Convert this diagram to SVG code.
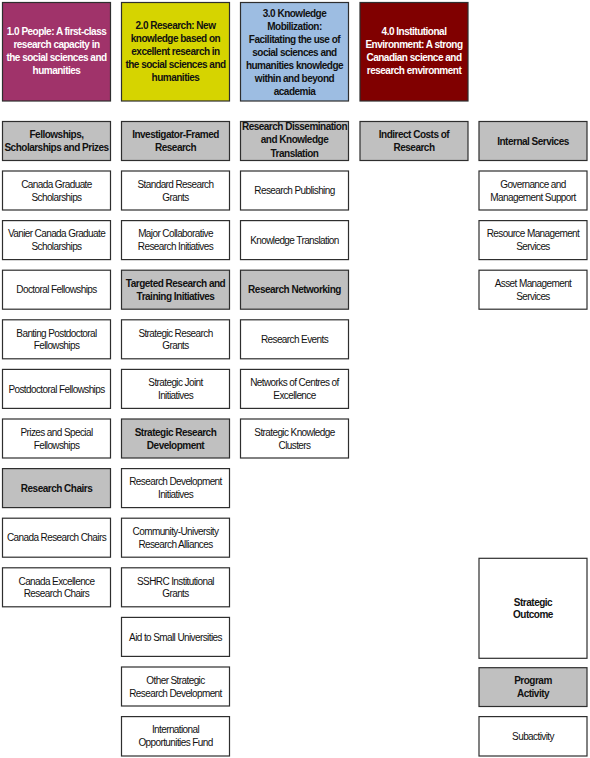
<svg xmlns="http://www.w3.org/2000/svg" width="590" height="758" viewBox="0 0 590 758">
<style>
  .box { stroke: #2e2e2e; stroke-width: 1.2; }
  .w { fill: #ffffff; }
  .g { fill: #c0c0c0; }
  .p { fill: #a0336a; }
  .y { fill: #d6d400; }
  .b { fill: #9dbde2; }
  .r { fill: #800000; }
  text { font-family: "Liberation Sans", Arial, sans-serif; font-size: 10px; text-anchor: middle; fill: #111111; letter-spacing: -0.6px; }
  .bd { font-weight: bold; letter-spacing: -0.5px; }
  .wt { fill: #ffffff; }
</style>
<rect width="590" height="758" fill="#ffffff"/>
<g id="connectors"/>

<!-- Column 1 -->
<g id="h1"><rect class="box p" x="2.5" y="2.5" width="108" height="98.5"/>
<text class="bd wt"><tspan x="56.5" y="34.9">1.0 People: A first-class</tspan><tspan x="56.5" y="47.9">research capacity in</tspan><tspan x="56.5" y="60.9">the social sciences and</tspan><tspan x="56.5" y="73.9">humanities</tspan></text></g>
<g id="fellowships"><rect class="box g" x="2.5" y="121.5" width="108" height="39"/>
<text class="bd"><tspan x="56.5" y="138.2">Fellowships,</tspan><tspan x="56.5" y="150.9">Scholarships and Prizes</tspan></text></g>
<g id="cgs"><rect class="box w" x="2.5" y="171" width="108" height="39"/>
<text><tspan x="56.5" y="187.8">Canada Graduate</tspan><tspan x="56.5" y="200.5">Scholarships</tspan></text></g>
<g id="vanier"><rect class="box w" x="2.5" y="220.6" width="108" height="39"/>
<text><tspan x="56.5" y="237.4">Vanier Canada Graduate</tspan><tspan x="56.5" y="250.1">Scholarships</tspan></text></g>
<g id="doctoral"><rect class="box w" x="2.5" y="270.2" width="108" height="39"/>
<text><tspan x="56.5" y="293.3">Doctoral Fellowships</tspan></text></g>
<g id="banting"><rect class="box w" x="2.5" y="319.8" width="108" height="39"/>
<text><tspan x="56.5" y="336.6">Banting Postdoctoral</tspan><tspan x="56.5" y="349.3">Fellowships</tspan></text></g>
<g id="postdoc"><rect class="box w" x="2.5" y="369.4" width="108" height="39"/>
<text><tspan x="56.5" y="392.5">Postdoctoral Fellowships</tspan></text></g>
<g id="prizes"><rect class="box w" x="2.5" y="419" width="108" height="39"/>
<text><tspan x="56.5" y="435.8">Prizes and Special</tspan><tspan x="56.5" y="448.5">Fellowships</tspan></text></g>
<g id="chairs"><rect class="box g" x="2.5" y="468.6" width="108" height="39"/>
<text class="bd"><tspan x="56.5" y="491.7">Research Chairs</tspan></text></g>
<g id="crc"><rect class="box w" x="2.5" y="518.2" width="108" height="39"/>
<text><tspan x="56.5" y="541.3">Canada Research Chairs</tspan></text></g>
<g id="cerc"><rect class="box w" x="2.5" y="567.8" width="108" height="39"/>
<text><tspan x="56.5" y="584.6">Canada Excellence</tspan><tspan x="56.5" y="597.3">Research Chairs</tspan></text></g>

<!-- Column 2 -->
<g id="h2"><rect class="box y" x="121.5" y="2.5" width="108" height="98.5"/>
<text class="bd"><tspan x="175.5" y="29.2">2.0 Research: New</tspan><tspan x="175.5" y="42.2">knowledge based on</tspan><tspan x="175.5" y="55.2">excellent research in</tspan><tspan x="175.5" y="68.2">the social sciences and</tspan><tspan x="175.5" y="81.2">humanities</tspan></text></g>
<g id="investigator"><rect class="box g" x="121.5" y="121.5" width="108" height="39"/>
<text class="bd"><tspan x="175.5" y="138.2">Investigator-Framed</tspan><tspan x="175.5" y="150.9">Research</tspan></text></g>
<g id="srg"><rect class="box w" x="121.5" y="171" width="108" height="39"/>
<text><tspan x="175.5" y="187.8">Standard Research</tspan><tspan x="175.5" y="200.5">Grants</tspan></text></g>
<g id="mcri"><rect class="box w" x="121.5" y="220.6" width="108" height="39"/>
<text><tspan x="175.5" y="237.4">Major Collaborative</tspan><tspan x="175.5" y="250.1">Research Initiatives</tspan></text></g>
<g id="targeted"><rect class="box g" x="121.5" y="270.2" width="108" height="39"/>
<text class="bd"><tspan x="175.5" y="287">Targeted Research and</tspan><tspan x="175.5" y="299.7">Training Initiatives</tspan></text></g>
<g id="strg"><rect class="box w" x="121.5" y="319.8" width="108" height="39"/>
<text><tspan x="175.5" y="336.6">Strategic Research</tspan><tspan x="175.5" y="349.3">Grants</tspan></text></g>
<g id="sji"><rect class="box w" x="121.5" y="369.4" width="108" height="39"/>
<text><tspan x="175.5" y="386.2">Strategic Joint</tspan><tspan x="175.5" y="398.9">Initiatives</tspan></text></g>
<g id="srd"><rect class="box g" x="121.5" y="419" width="108" height="39"/>
<text class="bd"><tspan x="175.5" y="435.8">Strategic Research</tspan><tspan x="175.5" y="448.5">Development</tspan></text></g>
<g id="rdi"><rect class="box w" x="121.5" y="468.6" width="108" height="39"/>
<text><tspan x="175.5" y="485.4">Research Development</tspan><tspan x="175.5" y="498.1">Initiatives</tspan></text></g>
<g id="cura"><rect class="box w" x="121.5" y="518.2" width="108" height="39"/>
<text><tspan x="175.5" y="535">Community-University</tspan><tspan x="175.5" y="547.7">Research Alliances</tspan></text></g>
<g id="sshrc"><rect class="box w" x="121.5" y="567.8" width="108" height="39"/>
<text><tspan x="175.5" y="584.6">SSHRC Institutional</tspan><tspan x="175.5" y="597.3">Grants</tspan></text></g>
<g id="aid"><rect class="box w" x="121.5" y="617.4" width="108" height="39"/>
<text><tspan x="175.5" y="640.5">Aid to Small Universities</tspan></text></g>
<g id="other"><rect class="box w" x="121.5" y="667" width="108" height="39"/>
<text><tspan x="175.5" y="683.8">Other Strategic</tspan><tspan x="175.5" y="696.5">Research Development</tspan></text></g>
<g id="iof"><rect class="box w" x="121.5" y="716.6" width="108" height="39.4"/>
<text><tspan x="175.5" y="733.4">International</tspan><tspan x="175.5" y="746.1">Opportunities Fund</tspan></text></g>

<!-- Column 3 -->
<g id="h3"><rect class="box b" x="240.5" y="2.5" width="108" height="98.5"/>
<text class="bd"><tspan x="294.5" y="16.5">3.0 Knowledge</tspan><tspan x="294.5" y="29.6">Mobilization:</tspan><tspan x="294.5" y="42.7">Facilitating the use of</tspan><tspan x="294.5" y="55.8">social sciences and</tspan><tspan x="294.5" y="68.9">humanities knowledge</tspan><tspan x="294.5" y="82">within and beyond</tspan><tspan x="294.5" y="95.1">academia</tspan></text></g>
<g id="dissemination"><rect class="box g" x="240.5" y="121.5" width="108" height="39"/>
<text class="bd"><tspan x="294.5" y="129.6">Research Dissemination</tspan><tspan x="294.5" y="143.2">and Knowledge</tspan><tspan x="294.5" y="156.8">Translation</tspan></text></g>
<g id="publishing"><rect class="box w" x="240.5" y="171" width="108" height="39"/>
<text><tspan x="294.5" y="194.1">Research Publishing</tspan></text></g>
<g id="kt"><rect class="box w" x="240.5" y="220.6" width="108" height="39"/>
<text><tspan x="294.5" y="243.7">Knowledge Translation</tspan></text></g>
<g id="networking"><rect class="box g" x="240.5" y="270.2" width="108" height="39"/>
<text class="bd"><tspan x="294.5" y="293.3">Research Networking</tspan></text></g>
<g id="events"><rect class="box w" x="240.5" y="319.8" width="108" height="39"/>
<text><tspan x="294.5" y="342.9">Research Events</tspan></text></g>
<g id="nce"><rect class="box w" x="240.5" y="369.4" width="108" height="39"/>
<text><tspan x="294.5" y="386.2">Networks of Centres of</tspan><tspan x="294.5" y="398.9">Excellence</tspan></text></g>
<g id="skc"><rect class="box w" x="240.5" y="419" width="108" height="39"/>
<text><tspan x="294.5" y="435.8">Strategic Knowledge</tspan><tspan x="294.5" y="448.5">Clusters</tspan></text></g>

<!-- Column 4 -->
<g id="h4"><rect class="box r" x="360" y="2.5" width="108" height="98.5"/>
<text class="bd wt"><tspan x="414" y="35.3">4.0 Institutional</tspan><tspan x="414" y="47.9">Environment: A strong</tspan><tspan x="414" y="60.9">Canadian science and</tspan><tspan x="414" y="74.3">research environment</tspan></text></g>
<g id="indirect"><rect class="box g" x="360" y="121.5" width="108" height="39"/>
<text class="bd"><tspan x="414" y="138.2">Indirect Costs of</tspan><tspan x="414" y="150.9">Research</tspan></text></g>

<!-- Column 5 -->
<g id="internal"><rect class="box g" x="479" y="121.5" width="108" height="39"/>
<text class="bd"><tspan x="533" y="144.6">Internal Services</tspan></text></g>
<g id="governance"><rect class="box w" x="479" y="171" width="108" height="39"/>
<text><tspan x="533" y="187.8">Governance and</tspan><tspan x="533" y="200.5">Management Support</tspan></text></g>
<g id="resource"><rect class="box w" x="479" y="220.6" width="108" height="39"/>
<text><tspan x="533" y="237.4">Resource Management</tspan><tspan x="533" y="250.1">Services</tspan></text></g>
<g id="asset"><rect class="box w" x="479" y="270.2" width="108" height="39"/>
<text><tspan x="533" y="287">Asset Management</tspan><tspan x="533" y="299.7">Services</tspan></text></g>

<!-- Legend -->
<g id="legend-outcome"><rect class="box w" x="479" y="558.3" width="108" height="100"/>
<text class="bd"><tspan x="533" y="605.5">Strategic</tspan><tspan x="533" y="618.2">Outcome</tspan></text></g>
<g id="legend-activity"><rect class="box g" x="479" y="667.7" width="108" height="38.8"/>
<text class="bd"><tspan x="533" y="684.3">Program</tspan><tspan x="533" y="697">Activity</tspan></text></g>
<g id="legend-subactivity"><rect class="box w" x="479" y="716.6" width="108" height="39.4"/>
<text><tspan x="533" y="739.9">Subactivity</tspan></text></g>
</svg>
